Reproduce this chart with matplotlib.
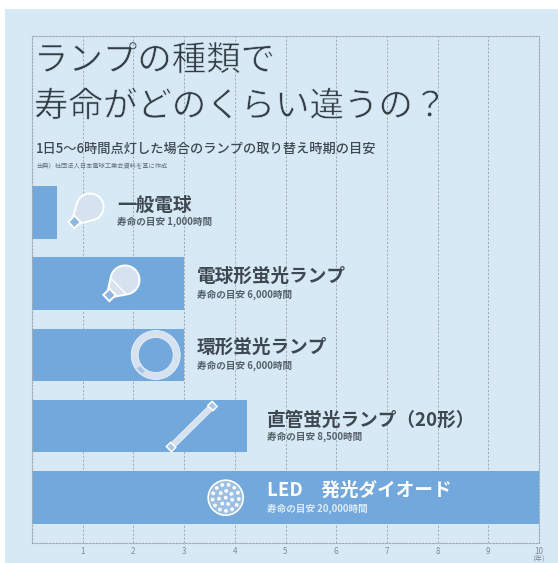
import numpy as np
import matplotlib
matplotlib.use("Agg")
import matplotlib.pyplot as plt
import matplotlib.patheffects as pe
from matplotlib.patches import Circle, Polygon, Rectangle, Wedge

plt.rcParams["font.family"] = ["Noto Sans CJK JP", "DejaVu Sans"]

W, H = 558, 563
BG = "#d6e9f5"
BAR = "#72a8dc"
INK = "#3e4850"
LAMP = "#d6e2ef"
GRID = "#a0abb3"

lamp_names = ["一般電球", "電球形蛍光ランプ", "環形蛍光ランプ", "直管蛍光ランプ（20形）", "LED　発光ダイオード"]
life_hours = [1000, 6000, 6000, 8500, 20000]
life_labels = ["寿命の目安 1,000時間", "寿命の目安 6,000時間", "寿命の目安 6,000時間",
               "寿命の目安 8,500時間", "寿命の目安 20,000時間"]
hours_per_year = 2000
year_ticks = [1, 2, 3, 4, 5, 6, 7, 8, 9, 10]

title_lines = ["ランプの種類で", "寿命がどのくらい違うの？"]
subtitle = "1日5～6時間点灯した場合のランプの取り替え時期の目安"
source = "出典）社団法人日本電球工業会資料を基に作成"


def bulb(ax, cx, cy, r, bx, by, neck_band=False):
    # globe with a tapered neck, then a small square cap on the end
    ang = np.arctan2(by - cy, bx - cx)
    t = np.linspace(ang + 1.0, ang + 2 * np.pi - 1.0, 60)
    pts = np.column_stack([cx + r * np.cos(t), cy + r * np.sin(t)])
    u = np.array([np.cos(ang), np.sin(ang)])
    n = np.array([-u[1], u[0]])
    end = np.array([bx, by]) - u * 2
    pts = np.vstack([pts, end - n * 4.5, end + n * 4.5])
    ax.add_patch(Polygon(pts, closed=True, fc=LAMP, ec="white", lw=1.4, zorder=3))
    if neck_band:
        mid = np.array([cx, cy]) + u * r * 0.62
        ax.plot(*np.column_stack([mid - n * r * 0.72, mid + n * r * 0.72]), color="white", lw=1.0, zorder=4)
    c = np.array([bx, by])
    s = 4.4
    cap = [c + u * s + n * s, c + u * s - n * s, c - u * s - n * s, c - u * s + n * s]
    ax.add_patch(Polygon(cap, closed=True, fc="#8fb7e0", ec="white", lw=1.4, zorder=5))


def ring(ax, cx, cy, r_out, r_in):
    ax.add_patch(Wedge((cx, cy), r_out, 0, 360, width=r_out - r_in, fc=LAMP, ec="#e6eff7", lw=0.6, zorder=3))
    # y runs downward here, so 135 degrees lands at the lower left
    ax.add_patch(Wedge((cx, cy), r_out - 1.5, 125, 145, width=r_out - r_in - 3, fc="#a9c6e4", ec="none", zorder=4))


def tube(ax, x0, y0, x1, y1, half):
    p0, p1 = np.array([x0, y0]), np.array([x1, y1])
    u = (p1 - p0) / np.linalg.norm(p1 - p0)
    n = np.array([-u[1], u[0]])
    body = [p0 + n * half, p1 + n * half, p1 - n * half, p0 - n * half]
    ax.add_patch(Polygon(body, closed=True, fc=LAMP, ec="#e6eff7", lw=0.7, zorder=3))
    for c in (p0, p1):
        cap = [c + u * 3 + n * 3.6, c + u * 3 - n * 3.6, c - u * 3 - n * 3.6, c - u * 3 + n * 3.6]
        ax.add_patch(Polygon(cap, closed=True, fc="#a9c6e4", ec="white", lw=1.1, zorder=4))


def led(ax, cx, cy, r):
    ax.add_patch(Circle((cx, cy), r, fc="#9dbfe3", ec="white", lw=1.2, zorder=3))
    ax.add_patch(Circle((cx, cy), 1.9, fc="white", ec="none", zorder=4))
    for count, rad, start in [(7, 6.8, 0.3), (13, 13.2, 0.1)]:
        for a in start + np.arange(count) * 2 * np.pi / count:
            ax.add_patch(Circle((cx + rad * np.cos(a), cy + rad * np.sin(a)), 1.9, fc="white", ec="none", zorder=4))


fig = plt.figure(figsize=(W / 100, H / 100), dpi=100, facecolor="white")
fig.add_artist(Rectangle((5 / W, 0), 1 - 5 / W, 1 - 9 / H, transform=fig.transFigure, fc=BG, ec="none", zorder=-1))

# chart area: years along x, lamp index down y
ax = fig.add_axes([32 / W, 1 - 543 / H, (539 - 32) / W, (543 - 36) / H], facecolor="none")
years = np.array(life_hours) / hours_per_year
ax.barh(range(len(years)), years, height=0.737, color=BAR, zorder=2)
ax.set_xlim(0, 10)
ax.set_ylim(4.641, -2.474)
ax.set_yticks([])
ax.set_xticks(year_ticks)
ax.tick_params(axis="x", length=0, pad=3.2, labelsize=5.8, labelcolor="#7f8b94")
ax.grid(axis="x", color=GRID, lw=0.7, ls=(0, (2.2, 1.8)), zorder=1)
ax.set_axisbelow(True)
for s in ax.spines.values():
    s.set_color(GRID)
    s.set_linewidth(0.8)
    s.set_linestyle((0, (1.5, 1.5)))

# overlay in pixel units for the headings, lamp names and icons
ov = fig.add_axes([0, 0, 1, 1], facecolor="none")
ov.set_xlim(0, W)
ov.set_ylim(H, 0)
ov.axis("off")

thin = [pe.Stroke(linewidth=0.45, foreground=BG)]
for line, y in zip(title_lines, [61, 107]):
    ov.text(34, y, line, fontsize=24.8, color="#333d45", va="center", ha="left", path_effects=thin, zorder=6)
ov.text(36, 149, subtitle, fontsize=9.5, color=INK, weight="medium", va="center", ha="left", zorder=6)
ov.text(36, 166, source, fontsize=4.5, color="#65717a", va="center", ha="left", zorder=6)
ov.text(539, 559, "（年）", fontsize=5.0, color="#7f8b94", va="center", ha="center", zorder=6)

name_pos = [(117, 205), (197, 276), (197, 347), (267, 420), (267, 490)]
label_pos = [(117, 222), (197, 295), (197, 366), (267, 437), (267, 509)]
for i, (name, label) in enumerate(zip(lamp_names, life_labels)):
    col = "white" if i == 4 else INK
    sub_col = "#dcebf7" if i == 4 else "#56616a"
    ov.text(*name_pos[i], name, fontsize=13.4, color=col, weight="bold", va="center", ha="left", zorder=6)
    ov.text(*label_pos[i], label, fontsize=6.9, color=sub_col, weight="bold", va="center", ha="left", zorder=6)

bulb(ov, 90, 207, 13.5, 74.5, 222)
bulb(ov, 125, 280, 14.5, 109.5, 295, neck_band=True)
ring(ov, 155.7, 355, 24.5, 17.5)
tube(ov, 171, 447, 212.5, 406, 2.8)
led(ov, 225.7, 497.7, 17.5)

fig.savefig("out.png", dpi=100, facecolor="white")
